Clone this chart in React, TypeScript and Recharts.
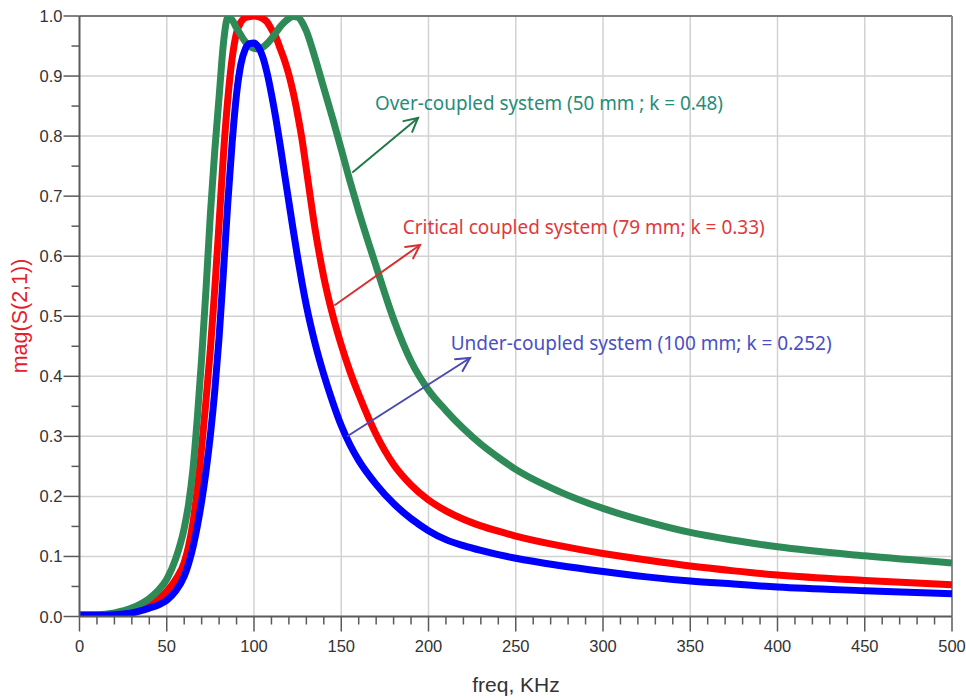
import React from 'react';
import { LineChart, Line, XAxis, YAxis, CartesianGrid, ReferenceLine } from 'recharts';

// Frequency sweep points (KHz)
const FREQ = [0, 10, 20, 30, 40, 45, 50, 55, 60, 62.5, 65, 67.5, 70, 72.5, 75, 77.5, 80, 82.5, 85, 87.5, 90, 92.5, 95, 97.5, 100, 102.5, 105, 107.5, 110, 112.5, 115, 117.5, 120, 122.5, 125, 127.5, 130, 135, 140, 145, 150, 155, 160, 170, 180, 190, 200, 210, 220, 230, 240, 250, 275, 300, 325, 350, 375, 400, 450, 500];

// |S21| of the over-coupled pair (50 mm, k = 0.48)
const OVER = [0.003, 0.003, 0.006, 0.014, 0.03, 0.043, 0.062, 0.095, 0.147, 0.187, 0.245, 0.33, 0.43, 0.545, 0.67, 0.775, 0.865, 0.955, 0.997, 0.993, 0.98, 0.968, 0.957, 0.95, 0.946, 0.945, 0.948, 0.954, 0.962, 0.972, 0.982, 0.99, 0.996, 0.999, 0.998, 0.99, 0.975, 0.93, 0.88, 0.83, 0.778, 0.725, 0.675, 0.583, 0.495, 0.425, 0.377, 0.343, 0.313, 0.287, 0.265, 0.245, 0.208, 0.18, 0.158, 0.14, 0.127, 0.116, 0.101, 0.089];

// |S21| of the critically coupled pair (79 mm, k = 0.33)
const CRITICAL = [0.002, 0.002, 0.004, 0.009, 0.02, 0.029, 0.042, 0.061, 0.09, 0.117, 0.156, 0.212, 0.282, 0.36, 0.445, 0.545, 0.655, 0.77, 0.862, 0.93, 0.972, 0.99, 0.997, 0.999, 1.0, 0.999, 0.996, 0.99, 0.978, 0.965, 0.946, 0.926, 0.902, 0.872, 0.836, 0.795, 0.745, 0.645, 0.565, 0.503, 0.452, 0.408, 0.37, 0.303, 0.253, 0.219, 0.194, 0.176, 0.162, 0.151, 0.142, 0.134, 0.118, 0.105, 0.094, 0.084, 0.076, 0.069, 0.06, 0.053];

// |S21| of the under-coupled pair (100 mm, k = 0.252)
const UNDER = [0.002, 0.002, 0.003, 0.006, 0.014, 0.019, 0.027, 0.042, 0.067, 0.088, 0.115, 0.15, 0.192, 0.242, 0.302, 0.375, 0.465, 0.575, 0.69, 0.79, 0.87, 0.92, 0.945, 0.954, 0.955, 0.948, 0.932, 0.905, 0.87, 0.83, 0.785, 0.737, 0.69, 0.643, 0.598, 0.556, 0.518, 0.455, 0.403, 0.358, 0.318, 0.286, 0.26, 0.22, 0.188, 0.163, 0.143, 0.128, 0.118, 0.11, 0.103, 0.097, 0.085, 0.075, 0.066, 0.059, 0.054, 0.049, 0.043, 0.038];

// Axis ticks
const X_MAJOR = [0, 50, 100, 150, 200, 250, 300, 350, 400, 450, 500];
const Y_MAJOR = [0, 0.1, 0.2, 0.3, 0.4, 0.5, 0.6, 0.7, 0.8, 0.9, 1.0];
const X_TICKS: number[] = [];
for (let v = 0; v <= 500; v += 10) X_TICKS.push(v);
const Y_TICKS: number[] = [];
for (let i = 0; i <= 20; i++) Y_TICKS.push(i / 20);

const data = FREQ.map((f, i) => ({ f, over: OVER[i], critical: CRITICAL[i], under: UNDER[i] }));

const AXIS_COLOR = '#5a5a5a';
const TICK_FONT = '"Liberation Sans", Arial, sans-serif';

const XTick = (props: any) => {
  const { x, y, payload } = props;
  const v = payload.value as number;
  const major = X_MAJOR.includes(v);
  return (
    <g>
      <line x1={x} y1={y} x2={x} y2={y + (major ? 15 : 8)} stroke={AXIS_COLOR} strokeWidth={1.5} />
      {major && (
        <text x={x} y={y + 35.5} textAnchor="middle" fontSize={16.5} fontFamily={TICK_FONT} fill="#333">
          {v}
        </text>
      )}
    </g>
  );
};

const YTick = (props: any) => {
  const { x, y, payload } = props;
  const v = payload.value as number;
  const major = Y_MAJOR.some((m) => Math.abs(m - v) < 1e-6);
  return (
    <g>
      <line x1={x - (major ? 16 : 8)} y1={y} x2={x} y2={y} stroke={AXIS_COLOR} strokeWidth={1.5} />
      {major && (
        <text x={x - 17} y={y + 6} textAnchor="end" fontSize={16.5} fontFamily={TICK_FONT} fill="#333">
          {v.toFixed(1)}
        </text>
      )}
    </g>
  );
};

type Arrow = { x1: number; y1: number; x2: number; y2: number; color: string };

const ArrowMark = ({ x1, y1, x2, y2, color }: Arrow) => {
  const ang = Math.atan2(y2 - y1, x2 - x1);
  const len = 15;
  const spread = Math.PI / 6.5;
  const a1 = ang + Math.PI - spread;
  const a2 = ang + Math.PI + spread;
  return (
    <g stroke={color} strokeWidth={2} fill="none" strokeLinecap="round">
      <line x1={x1} y1={y1} x2={x2} y2={y2} />
      <polyline
        points={`${x2 + len * Math.cos(a1)},${y2 + len * Math.sin(a1)} ${x2},${y2} ${x2 + len * Math.cos(a2)},${y2 + len * Math.sin(a2)}`}
      />
    </g>
  );
};

const NOTE_FONT = '"Noto Sans", "Open Sans", sans-serif';

export default function App() {
  const W = 966;
  const H = 700;
  return (
    <div style={{ position: 'relative', width: W, height: H, background: '#fff' }}>
      {/* the chart takes the whole window */}
      <style>{'body{margin:0}'}</style>
      <LineChart width={W} height={H} data={data} margin={{ top: 16, right: 14, left: 8, bottom: 0 }}>
        <CartesianGrid
          stroke="#d2d2d2"
          strokeWidth={1.5}
          horizontalValues={[0.1, 0.2, 0.3, 0.4, 0.5, 0.6, 0.7, 0.8, 0.9]}
          verticalValues={[50, 100, 150, 200, 250, 300, 350, 400, 450]}
        />
        <XAxis
          type="number"
          dataKey="f"
          domain={[0, 500]}
          ticks={X_TICKS}
          interval={0}
          tickSize={0}
          tickMargin={0}
          tickLine={false}
          tick={<XTick />}
          axisLine={{ stroke: AXIS_COLOR, strokeWidth: 2 }}
          height={83.5}
          allowDataOverflow
        />
        <YAxis
          type="number"
          domain={[0, 1]}
          ticks={Y_TICKS}
          interval={0}
          tickSize={0}
          tickMargin={0}
          tickLine={false}
          tick={<YTick />}
          axisLine={{ stroke: AXIS_COLOR, strokeWidth: 2 }}
          width={71.5}
          allowDataOverflow
        />
        <ReferenceLine y={1} stroke="#7a7a7a" strokeWidth={2} />
        <ReferenceLine x={500} stroke="#8a8a8a" strokeWidth={2} />
        <Line type="monotone" dataKey="critical" stroke="#ff0000" strokeWidth={7} dot={false} isAnimationActive={false} />
        <Line type="monotone" dataKey="over" stroke="#2e8b57" strokeWidth={7} dot={false} isAnimationActive={false} />
        <Line type="monotone" dataKey="under" stroke="#0000ff" strokeWidth={7} dot={false} isAnimationActive={false} />
      </LineChart>
      <svg width={W} height={H} style={{ position: 'absolute', left: 0, top: 0, pointerEvents: 'none' }}>
        <text x={516} y={692} textAnchor="middle" fontSize={21} fontFamily={TICK_FONT} fill="#333">
          freq, KHz
        </text>
        <text
          x={0}
          y={0}
          transform="translate(26.5,316) rotate(-90)"
          textAnchor="middle"
          fontSize={21.5}
          fontFamily={TICK_FONT}
          fill="#e4202a"
        >
          mag(S(2,1))
        </text>

        <ArrowMark x1={353} y1={172} x2={418} y2={118} color="#1f7a48" />
        <ArrowMark x1={335} y1={305} x2={420} y2={245} color="#d83030" />
        <ArrowMark x1={347.7} y1={436} x2={470} y2={358} color="#4a4ab0" />

        <text x={375} y={110} fontSize={19} fontFamily={NOTE_FONT} fill="#268c7a" textLength={348} lengthAdjust="spacingAndGlyphs">
          Over-coupled system (50 mm ; k = 0.48)
        </text>
        <text x={402.7} y={233.7} fontSize={19} fontFamily={NOTE_FONT} fill="#e0393c" textLength={362} lengthAdjust="spacingAndGlyphs">
          Critical coupled system (79 mm; k = 0.33)
        </text>
        <text x={450.7} y={350} fontSize={19} fontFamily={NOTE_FONT} fill="#4a4fc2" textLength={381} lengthAdjust="spacingAndGlyphs">
          Under-coupled system (100 mm; k = 0.252)
        </text>
      </svg>
    </div>
  );
}
